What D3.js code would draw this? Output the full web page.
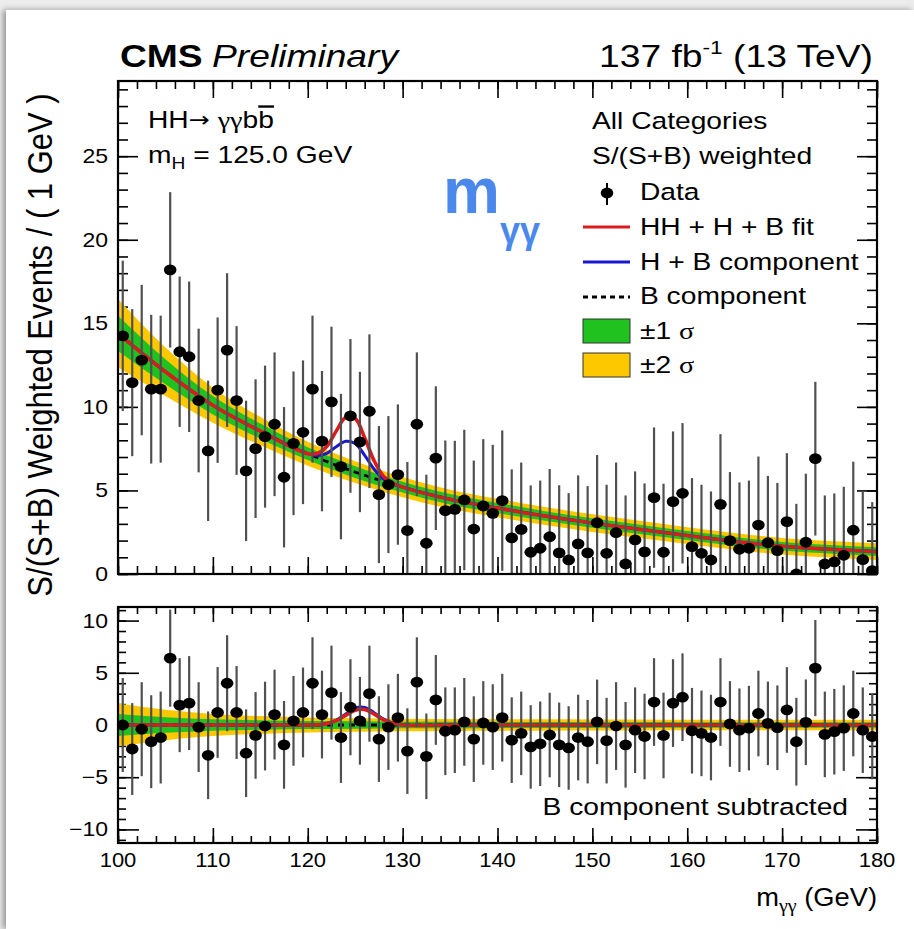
<!DOCTYPE html>
<html>
<head>
<meta charset="utf-8">
<script src="https://cdn.jsdelivr.net/npm/d3@7"></script>
<style>
  html, body { margin: 0; padding: 0; width: 914px; height: 929px; overflow: hidden; background: #ececec; }
  #card { position: absolute; left: 6px; top: 10px; width: 908px; height: 919px; background: #fff;
          box-shadow: -3px 0 6px rgba(0,0,0,0.38); }
  svg { position: absolute; left: 0; top: 0; }
</style>
</head>
<body>
<div id="card"></div>
<svg id="chart" width="914" height="929"></svg>
<script>
// ---------------- data ----------------
// diphoton mass bin centres (GeV), 1 GeV bins
const massBins = [100.5,101.5,102.5,103.5,104.5,105.5,106.5,107.5,108.5,109.5,
  110.5,111.5,112.5,113.5,114.5,115.5,116.5,117.5,118.5,119.5,
  120.5,121.5,122.5,123.5,124.5,125.5,126.5,127.5,128.5,129.5,
  130.5,131.5,132.5,133.5,134.5,135.5,136.5,137.5,138.5,139.5,
  140.5,141.5,142.5,143.5,144.5,145.5,146.5,147.5,148.5,149.5,
  150.5,151.5,152.5,153.5,154.5,155.5,156.5,157.5,158.5,159.5,
  160.5,161.5,162.5,163.5,164.5,165.5,166.5,167.5,168.5,169.5,
  170.5,171.5,172.5,173.5,174.5,175.5,176.5,177.5,178.5,179.5];

// S/(S+B) weighted events per bin
const weightedEvents = [14.25,11.45,12.8,11.06,11.06,18.2,13.3,13.0,10.38,7.37,
  11.0,13.4,10.38,6.17,7.5,8.22,8.96,5.79,7.82,8.48,
  11.06,7.95,10.3,6.43,9.46,7.9,9.74,4.75,5.35,5.95,
  2.6,8.96,1.84,6.93,3.79,3.87,4.43,2.69,4.07,3.63,
  4.39,2.16,2.67,1.30,1.54,2.23,1.26,0.84,1.80,1.26,
  3.07,1.24,2.47,0.6,2.04,1.32,4.57,1.30,4.33,4.83,
  1.64,1.24,0.84,4.17,2.0,1.48,1.54,2.93,1.87,1.40,
  3.13,0.0,1.9,6.9,0.6,0.72,1.12,2.62,0.86,0.2];

// weighted events after subtracting the background component
const residualEvents = [0.0,-2.3,-0.4,-1.6,-1.2,6.4,1.9,2.1,-0.2,-2.9,
  1.2,4.0,1.2,-2.7,-1.0,-0.1,1.0,-1.9,0.4,1.2,
  4.0,1.0,3.1,-1.2,1.7,0.4,3.0,-1.35,-0.2,0.7,
  -2.5,4.1,-3.0,2.4,-0.6,-0.5,0.3,-1.35,0.2,-0.2,
  0.7,-1.45,-0.8,-2.1,-1.8,-0.96,-1.9,-2.2,-1.2,-1.6,
  0.3,-1.5,-0.1,-1.9,-0.5,-1.1,2.2,-1.0,2.1,2.66,
  -0.55,-0.8,-1.2,2.2,0.1,-0.5,-0.3,1.1,0.16,-0.26,
  1.44,-1.6,0.26,5.45,-0.9,-0.64,-0.3,1.1,-0.5,-1.1];

// statistical uncertainty per bin (symmetric)
const eventErrors = [4.5,4.4,4.5,4.45,4.4,4.65,4.5,4.5,4.3,4.2,
  4.35,4.6,4.45,4.2,4.15,4.25,4.3,4.2,4.3,4.3,
  4.4,4.2,4.5,4.35,4.6,4.2,4.6,4.1,4.1,4.2,
  4.1,4.3,4.1,4.3,4.2,4.1,4.2,4.1,4.0,4.1,
  4.2,4.1,4.0,4.0,4.05,4.05,4.05,4.0,4.1,4.0,
  4.05,4.1,4.2,4.1,4.1,4.1,4.2,4.1,4.2,4.2,
  4.1,4.1,4.1,4.2,4.1,4.0,4.05,4.1,4.0,4.05,
  4.1,4.2,4.1,4.6,4.1,4.1,4.1,4.1,4.1,4.1];

// background-only fit and its uncertainty bands
const bkgMass  = [100,105,110,115,120,125,130,135,140,145,150,155,160,165,170,175,180];
const bkgFit   = [14.4,12.1,10.1,8.55,7.2,6.1,5.2,4.47,3.95,3.47,3.05,2.67,2.3,1.95,1.66,1.48,1.34];
const sigma1   = [1.05,0.75,0.55,0.45,0.38,0.35,0.32,0.31,0.3,0.29,0.28,0.28,0.27,0.27,0.26,0.26,0.26];
const sigma2   = [2.05,1.45,1.05,0.85,0.72,0.65,0.6,0.57,0.55,0.54,0.53,0.52,0.5,0.5,0.5,0.5,0.5];

// fit curves around the Higgs peak
const peakMass   = [120,121,122,123,124,125,126,127,128,129,130];
const fitTotal   = [7.2,7.21,7.63,8.55,9.37,9.3,8.15,6.77,5.84,5.43,5.2];
const fitHB      = [7.2,7.09,7.22,7.62,7.94,7.81,7.1,6.27,5.68,5.39,5.2];
const subTotal   = [0,0.01,0.12,0.41,0.92,1.42,1.48,1.04,0.5,0.16,0];
const subHB      = [0,0.02,0.15,0.47,1.05,1.62,1.68,1.18,0.56,0.18,0];

const yTicksTop = [0,5,10,15,20,25];
const yTicksBot = [-10,-5,0,5,10];
const xTicks    = [100,110,120,130,140,150,160,170,180];

// ---------------- layout ----------------
const svg = d3.select("#chart");
const SANS = "'Liberation Sans', Arial, Helvetica, sans-serif";
const SERIF = "'Liberation Serif', 'Times New Roman', serif";
const K = 1.2;   // horizontal stretch of lettering

const x    = d3.scaleLinear().domain([100,180]).range([118,877]);
const yTop = d3.scaleLinear().domain([0,29.5]).range([574,81]);
const yBot = d3.scaleLinear().domain([-11.3,11.3]).range([843,607]);

const C = { green: "#1fc21f", yellow: "#fdc800", red: "#dc1c1c", blue: "#1818d0", bar: "#505050" };

function txt(g, px, py, opts) {
  const t = g.append("text")
    .attr("transform", `translate(${px},${py}) scale(${opts.k ?? K},1)` + (opts.rotate ? ` rotate(${opts.rotate})` : ""))
    .attr("font-family", opts.family || SANS)
    .attr("font-size", opts.size)
    .attr("text-anchor", opts.anchor || "start")
    .attr("fill", opts.fill || "#000");
  if (opts.weight) t.attr("font-weight", opts.weight);
  if (opts.style) t.attr("font-style", opts.style);
  if (opts.text !== undefined) t.text(opts.text);
  return t;
}

function panel(yScale, y0, y1, yMajor, yMinorStep, lens, clipId) {
  const g = svg.append("g");
  const yd = yScale.domain();
  const yMinor = d3.range(Math.ceil(yd[0]), Math.floor(yd[1]) + 1, yMinorStep);
  const xMinor = d3.range(100, 181, 2);

  const tickAxis = (axis, scale, vals, len, tr) => {
    g.append("g").attr("transform", tr)
      .call(axis(scale).tickValues(vals).tickSize(-len).tickFormat(""))
      .call(s => s.select(".domain").remove())
      .call(s => s.selectAll("line").attr("stroke", "#000").attr("stroke-width", 1.6));
  };
  tickAxis(d3.axisBottom, x, xMinor, lens.xMin, `translate(0,${y1})`);
  tickAxis(d3.axisBottom, x, xTicks, lens.xMaj, `translate(0,${y1})`);
  tickAxis(d3.axisTop, x, xMinor, lens.xMin, `translate(0,${y0})`);
  tickAxis(d3.axisTop, x, xTicks, lens.xMaj, `translate(0,${y0})`);
  tickAxis(d3.axisLeft, yScale, yMinor, lens.yMin, `translate(${x(100)},0)`);
  tickAxis(d3.axisLeft, yScale, yMajor, lens.yMaj, `translate(${x(100)},0)`);
  tickAxis(d3.axisRight, yScale, yMinor, lens.yMin, `translate(${x(180)},0)`);
  tickAxis(d3.axisRight, yScale, yMajor, lens.yMaj, `translate(${x(180)},0)`);

  svg.append("clipPath").attr("id", clipId)
    .append("rect").attr("x", x(100)).attr("y", y0).attr("width", x(180) - x(100)).attr("height", y1 - y0);
  const plot = svg.append("g").attr("clip-path", `url(#${clipId})`);
  return { g, plot };
}

function drawContent(plot, yScale, centre, total, hb, values) {
  const bandPts = bkgMass.map((m, i) => ({ m, c: centre[i], s1: sigma1[i], s2: sigma2[i] }));
  const area = (w) => d3.area().curve(d3.curveMonotoneX)
    .x(d => x(d.m)).y0(d => yScale(d.c - d[w])).y1(d => yScale(d.c + d[w]));
  plot.append("path").datum(bandPts).attr("d", area("s2")).attr("fill", C.yellow);
  plot.append("path").datum(bandPts).attr("d", area("s1")).attr("fill", C.green);

  const bkgPts = bkgMass.map((m, i) => [m, centre[i]]);
  const withPeak = (vals) => bkgPts.filter(p => p[0] < peakMass[0])
    .concat(peakMass.map((m, i) => [m, vals[i]]))
    .concat(bkgPts.filter(p => p[0] > peakMass[peakMass.length - 1]));
  const smooth = d3.line().curve(d3.curveMonotoneX).x(d => x(d[0])).y(d => yScale(d[1]));
  const peaked = d3.line().curve(d3.curveCatmullRom).x(d => x(d[0])).y(d => yScale(d[1]));

  plot.append("path").datum(bkgPts).attr("d", smooth).attr("fill", "none")
    .attr("stroke", "#000").attr("stroke-width", 2.8).attr("stroke-dasharray", "6,5");
  plot.append("path").datum(withPeak(hb)).attr("d", peaked).attr("fill", "none")
    .attr("stroke", C.blue).attr("stroke-width", 3);
  plot.append("path").datum(withPeak(total)).attr("d", peaked).attr("fill", "none")
    .attr("stroke", C.red).attr("stroke-width", 3.6);

  const pts = massBins.map((m, i) => ({ m, v: values[i], e: eventErrors[i] }));
  plot.append("g").selectAll("line").data(pts).join("line")
    .attr("x1", d => x(d.m)).attr("x2", d => x(d.m))
    .attr("y1", d => yScale(d.v + d.e)).attr("y2", d => yScale(d.v - d.e))
    .attr("stroke", C.bar).attr("stroke-width", 2.2);
  plot.append("g").selectAll("ellipse").data(pts).join("ellipse")
    .attr("cx", d => x(d.m)).attr("cy", d => yScale(d.v)).attr("rx", 6.3).attr("ry", 5.4).attr("fill", "#000");
}

// ---------- upper panel ----------
const upper = panel(yTop, 81, 574, yTicksTop, 1, { xMaj: 17, xMin: 8, yMaj: 20, yMin: 10 }, "clipTop");
drawContent(upper.plot, yTop, bkgFit, fitTotal, fitHB, weightedEvents);
svg.append("rect").attr("x", x(100)).attr("y", 81).attr("width", x(180) - x(100)).attr("height", 574 - 81)
  .attr("fill", "none").attr("stroke", "#000").attr("stroke-width", 2.2);

// ---------- lower panel ----------
const zeros = bkgMass.map(() => 0);
const lower = panel(yBot, 607, 843, yTicksBot, 1, { xMaj: 15, xMin: 7, yMaj: 21, yMin: 8 }, "clipBot");
drawContent(lower.plot, yBot, zeros, subTotal, subHB, residualEvents);
svg.append("rect").attr("x", x(100)).attr("y", 607).attr("width", x(180) - x(100)).attr("height", 843 - 607)
  .attr("fill", "none").attr("stroke", "#000").attr("stroke-width", 2.2);

// ---------- tick labels ----------
const lab = svg.append("g");
yTicksTop.forEach(v => txt(lab, 108, yTop(v) + 7, { size: 20, anchor: "end", text: String(v), k: 1.15 }));
yTicksBot.forEach(v => txt(lab, 108, yBot(v) + 7, { size: 20, anchor: "end", text: v < 0 ? "\u2212" + Math.abs(v) : String(v), k: 1.15 }));
xTicks.forEach(v => txt(lab, x(v), 867, { size: 20, anchor: "middle", text: String(v), k: 1.1 }));

// axis titles
txt(lab, 52, 345, { size: 31, anchor: "middle", rotate: -90, k: 1.12, text: "S/(S+B) Weighted Events / ( 1 GeV )" });
const xt = txt(lab, 877, 906, { size: 26, anchor: "end", k: 1.05 });
xt.append("tspan").text("m");
xt.append("tspan").attr("font-family", SERIF).attr("font-size", 19).attr("dy", 6).text("\u03b3\u03b3");
xt.append("tspan").attr("dy", -6).text(" (GeV)");

// header
txt(lab, 120, 67, { size: 31, weight: "bold", text: "CMS" });
txt(lab, 212, 67, { size: 31, style: "italic", text: "Preliminary" });
const lumi = txt(lab, 873, 67, { size: 31, anchor: "end" });
lumi.append("tspan").text("137 fb");
lumi.append("tspan").attr("font-size", 19).attr("dy", -13).text("-1");
lumi.append("tspan").attr("dy", 13).text(" (13 TeV)");

// process labels
const proc = txt(lab, 148, 128, { size: 23.5 });
proc.append("tspan").text("HH");
proc.append("tspan").attr("font-family", "'DejaVu Sans', sans-serif").attr("font-size", 21).attr("dy", -1).text("\u2192");
proc.append("tspan").attr("dy", 1).text(" ");
proc.append("tspan").attr("font-family", SERIF).text("\u03b3\u03b3");
proc.append("tspan").text("b");
proc.append("tspan").style("text-decoration", "overline").text("b");
const mh = txt(lab, 148, 163, { size: 23.5 });
mh.append("tspan").text("m");
mh.append("tspan").attr("font-size", 16).attr("dy", 6).text("H");
mh.append("tspan").attr("dy", -6).text(" = 125.0 GeV");

// big blue annotation
const big = txt(lab, 443, 213, { size: 64, weight: "bold", fill: "#4a88ec", k: 1.0 });
big.append("tspan").text("m");
big.append("tspan").attr("font-size", 36).attr("dy", 30).text("\u03b3\u03b3");

// legend
const leg = svg.append("g");
txt(leg, 592, 129, { size: 23.5, text: "All Categories" });
txt(leg, 592, 164, { size: 23.5, text: "S/(S+B) weighted" });
leg.append("line").attr("x1", 607).attr("x2", 607).attr("y1", 183).attr("y2", 205).attr("stroke", "#000").attr("stroke-width", 2);
leg.append("ellipse").attr("cx", 607).attr("cy", 193).attr("rx", 6.3).attr("ry", 5.4);
txt(leg, 640, 200, { size: 23.5, text: "Data" });
leg.append("line").attr("x1", 583).attr("x2", 630).attr("y1", 227).attr("y2", 227).attr("stroke", C.red).attr("stroke-width", 3.2);
txt(leg, 640, 235, { size: 23.5, text: "HH + H + B fit" });
leg.append("line").attr("x1", 583).attr("x2", 630).attr("y1", 262).attr("y2", 262).attr("stroke", C.blue).attr("stroke-width", 3.2);
txt(leg, 640, 270, { size: 23.5, text: "H + B component" });
leg.append("line").attr("x1", 583).attr("x2", 630).attr("y1", 297).attr("y2", 297).attr("stroke", "#000").attr("stroke-width", 3).attr("stroke-dasharray", "5,4");
txt(leg, 640, 304, { size: 23.5, text: "B component" });
leg.append("rect").attr("x", 583).attr("y", 319).attr("width", 47).attr("height", 24).attr("fill", C.green).attr("stroke", "#333").attr("stroke-width", 1);
const s1 = txt(leg, 640, 339, { size: 23.5 });
s1.append("tspan").text("\u00b11 ");
s1.append("tspan").attr("font-family", SERIF).text("\u03c3");
leg.append("rect").attr("x", 583).attr("y", 353).attr("width", 47).attr("height", 24).attr("fill", C.yellow).attr("stroke", "#333").attr("stroke-width", 1);
const s2 = txt(leg, 640, 373, { size: 23.5 });
s2.append("tspan").text("\u00b12 ");
s2.append("tspan").attr("font-family", SERIF).text("\u03c3");

txt(lab, 848, 815, { size: 23.5, anchor: "end", text: "B component subtracted" });
</script>
</body>
</html>
